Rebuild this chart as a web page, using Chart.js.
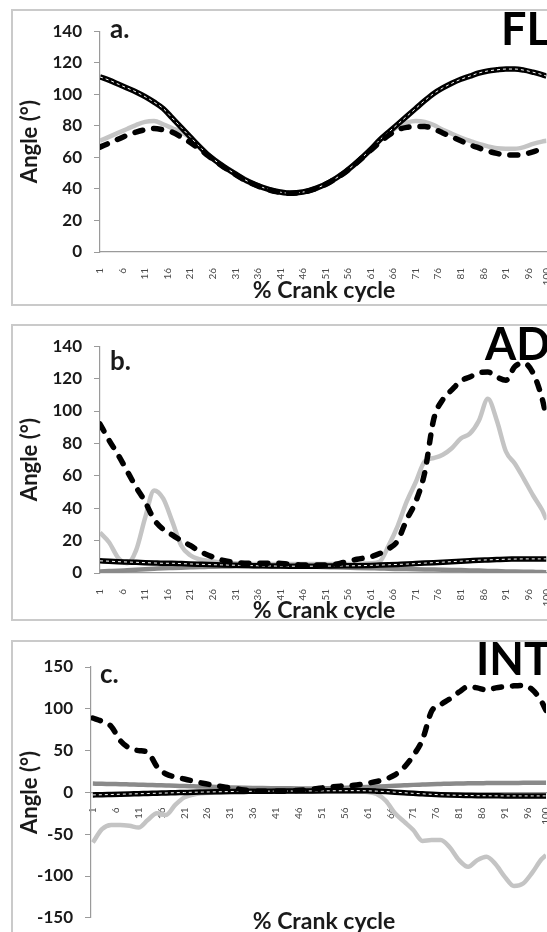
<!DOCTYPE html>
<html>
<head>
<meta charset="utf-8">
<script src="https://cdn.jsdelivr.net/npm/chart.js@4.4.0/dist/chart.umd.min.js"></script>
<style>
  html, body { margin: 0; padding: 0; background: #fff; }
  body { width: 547px; height: 932px; overflow: hidden; position: relative; }
  .frame { position: absolute; left: 11px; width: 620px; border: 2px solid #cacaca; box-sizing: border-box; }
  canvas { position: absolute; left: 0; }
</style>
</head>
<body>
<div class="frame" style="top:9px;height:297px"></div>
<div class="frame" style="top:324px;height:297px"></div>
<div class="frame" style="top:640px;height:320px"></div>
<canvas id="chartA" width="600" height="296" style="top:9px"></canvas>
<canvas id="chartB" width="600" height="296" style="top:324px"></canvas>
<canvas id="chartC" width="600" height="300" style="top:640px"></canvas>
<script>
// % crank cycle positions where values were read
const CYCLE = [1, 3, 5, 7, 9, 11, 13, 15, 17, 19, 21, 23, 25,
  28, 31, 34, 37, 40, 43, 46, 49, 52, 55, 58, 61,
  63, 65, 67, 69, 71, 73, 75, 77, 79, 81, 83, 85, 87, 89, 91, 93, 95, 97, 99, 100];
const X_TICKS = [1, 6, 11, 16, 21, 26, 31, 36, 41, 46, 51, 56, 61, 66, 71, 76, 81, 86, 91, 96, 100];

// a. FL
const flexSolid = [111, 109, 106.5, 104, 101.5, 98.5, 95, 91, 85, 79, 73, 67, 61.5,
  55, 49.5, 44.5, 41, 38.5, 37.3, 38, 40.5, 44.5, 50, 57, 65,
  71, 76, 81, 86, 91, 96, 100.5, 104, 107, 109.5, 111.5, 113.5, 114.8, 115.5, 116, 116, 115.3, 114, 112.5, 111.5];
const flexGray = [70.5, 73, 75.5, 78, 80.5, 82.5, 83, 81, 78.5, 76, 72.5, 67.5, 62,
  55.5, 50, 45, 41.3, 38.8, 37.6, 38.3, 40.8, 44.8, 50.3, 57.3, 65,
  70.5, 75, 79.5, 82, 83, 82.5, 80.5, 77.5, 75, 72.5, 70.5, 68.5, 67, 65.8, 65.5, 65.5, 66.5, 68.5, 70, 70.5];
const flexDash = [66.5, 69, 71.5, 74, 76, 77.5, 78.3, 77.5, 76, 73, 69.5, 65.5, 61,
  54.7, 49.2, 44.3, 40.8, 38.3, 37.2, 37.9, 40.3, 44.3, 49.8, 56.8, 64.5,
  69.5, 74, 77.5, 79, 79.5, 79.5, 78, 75.5, 73, 70.5, 68, 66, 64, 62.5, 61.5, 61.5, 62, 63.5, 65.5, 66.5];

// b. AD
const addSolid = [7.5, 7.3, 7, 6.8, 6.6, 6.4, 6.2, 6, 6, 5.8, 5.6, 5.4, 5.2,
  5, 4.8, 4.6, 4.4, 4.3, 4.2, 4.2, 4.2, 4.3, 4.4, 4.5, 4.7,
  4.9, 5.1, 5.3, 5.5, 5.8, 6.1, 6.4, 6.7, 7, 7.3, 7.6, 7.9, 8.1, 8.3, 8.5, 8.6, 8.7, 8.7, 8.7, 8.7];
const addDark = [1, 1.2, 1.4, 1.7, 2, 2.3, 2.6, 2.9, 3.1, 3.3, 3.5, 3.7, 3.8,
  4, 4.1, 4.2, 4.2, 4.2, 4.1, 4, 3.8, 3.6, 3.4, 3.1, 2.9,
  2.8, 2.6, 2.5, 2.4, 2.3, 2.2, 2.1, 2, 1.9, 1.8, 1.6, 1.5, 1.3, 1.2, 1, 0.9, 0.8, 0.7, 0.6, 0.5];
const addGray = [25, 19, 9.5, 6, 14, 34, 51, 46, 32, 17, 11, 8.5, 7.5,
  6.5, 6, 5.5, 5.5, 5.5, 5.5, 5.5, 5.5, 5.5, 5.5, 5.5, 6,
  7, 17, 29, 44, 56, 69, 71, 73, 77, 83, 86, 94, 107.5, 94, 75, 67.5, 58, 48, 39, 33];
const addDash = [92, 82, 73, 63, 53, 44, 33, 27, 23.5, 20, 17, 13.5, 11,
  8, 6.5, 6, 6, 6, 5.5, 5, 5, 5, 6.5, 8.5, 10,
  12, 15, 20, 33, 44, 62, 95, 107, 113, 118.5, 121, 123.5, 124, 121, 119, 127.5, 129.5, 123.5, 108, 96];

// c. INT
const intSolid = [-3, -2.8, -2.5, -2.2, -1.9, -1.6, -1.3, -1, -0.7, -0.4, -0.1, 0.2, 0.4,
  0.7, 1, 1.2, 1.4, 1.5, 1.6, 1.7, 1.8, 1.9, 2, 2.1, 1.9,
  1.5, 1, 0.3, -0.4, -1.1, -1.7, -2.3, -2.8, -3.2, -3.5, -3.7, -3.9, -4, -4.1, -4.2, -4.2, -4.2, -4.2, -4.2, -4.2];
const intDark = [10.5, 10.3, 10, 9.8, 9.5, 9.2, 8.9, 8.6, 8.3, 8, 7.6, 7.3, 7,
  6.5, 6, 5.6, 5.3, 5, 4.9, 4.8, 4.8, 5, 5.3, 5.8, 6.4,
  6.9, 7.4, 8, 8.5, 9, 9.4, 9.8, 10.1, 10.4, 10.6, 10.8, 11, 11.1, 11.2, 11.3, 11.3, 11.4, 11.4, 11.4, 11.4];
const intGray = [-60, -44, -39, -39, -40, -42, -33, -25, -27, -15, -6, -2.5, -1,
  0, 0.5, 1, 1, 1, 1, 1, 1, 1, 1, 1, 0.5,
  -2, -10, -25, -35, -45, -58, -57, -57, -66, -81, -89, -81, -77, -86, -101, -112, -109, -96, -80, -75];
const intDash = [89, 85, 79, 62, 53, 50, 48, 31, 22, 18.5, 16, 13.5, 11,
  8, 5.5, 3, 1.5, 1.5, 1.5, 2.5, 4, 6, 7.5, 8.5, 11,
  13, 16, 21, 30, 44, 63, 97, 105, 112, 120, 126.5, 125, 122.5, 125, 126.5, 127.5, 128, 123, 109, 98];

const FONT = 'Lato, "Open Sans", sans-serif';
const COLORS = { black: '#000000', white: '#ffffff', dark: '#8a8a8a', light: '#c4c4c4', axis: '#9a9a9a', text: '#1a1a1a' };

// panel letters, big labels and x titles
const panelText = {
  id: 'panelText',
  afterDraw(chart, args, o) {
    const ctx = chart.ctx;
    ctx.save();
    ctx.fillStyle = COLORS.text;
    ctx.textBaseline = 'alphabetic';
    ctx.textAlign = 'left';
    ctx.font = 'bold 26px ' + FONT;
    ctx.fillText(o.letter, o.letterX, o.letterY);
    ctx.fillStyle = '#000';
    ctx.font = 'bold 45px ' + FONT;
    ctx.fillText(o.big, o.bigX, o.bigY);
    ctx.fillStyle = COLORS.text;
    ctx.font = 'bold 23px ' + FONT;
    ctx.textAlign = 'center';
    ctx.fillText('% Crank cycle', o.titleX, o.titleY);
    ctx.restore();
  }
};

function line(values, kind) {
  const data = CYCLE.map((x, i) => ({ x: x, y: values[i] }));
  const base = { data: data, pointRadius: 0, fill: false, cubicInterpolationMode: 'monotone' };
  if (kind === 'dash') return Object.assign(base, { borderColor: COLORS.black, borderWidth: 5.5, borderDash: [8, 11], borderCapStyle: 'round' });
  if (kind === 'white') return Object.assign(base, { borderColor: COLORS.white, borderWidth: 1, borderDash: [3, 3] });
  if (kind === 'solid') return Object.assign(base, { borderColor: COLORS.black, borderWidth: 5.5 });
  if (kind === 'dark') return Object.assign(base, { borderColor: COLORS.dark, borderWidth: 4.5 });
  return Object.assign(base, { borderColor: COLORS.light, borderWidth: 4.5 });
}

function makeChart(id, cfg) {
  const canvas = document.getElementById(id);
  const datasets = [];
  if (cfg.dash) datasets.push(line(cfg.dash, 'dash'));
  datasets.push(line(cfg.solid, 'white'));
  datasets.push(line(cfg.solid, 'solid'));
  if (cfg.dark) datasets.push(line(cfg.dark, 'dark'));
  datasets.push(line(cfg.gray, 'gray'));

  return new Chart(canvas.getContext('2d'), {
    type: 'line',
    data: { datasets: datasets },
    plugins: [panelText],
    options: {
      responsive: false,
      animation: false,
      layout: { padding: { top: cfg.padTop, right: 600 - cfg.right, bottom: cfg.padBottom || 0, left: 0 } },
      plugins: {
        legend: { display: false },
        tooltip: { enabled: false },
        panelText: cfg.text,
      },
      scales: {
        x: {
          type: 'linear',
          position: cfg.xAtZero ? { y: 0 } : 'bottom',
          min: cfg.xMin,
          max: 100,
          afterBuildTicks: s => { s.ticks = X_TICKS.map(v => ({ value: v })); },
          afterFit: s => { if (!cfg.xAtZero) s.height = cfg.xHeight; },
          grid: { display: false },
          border: { display: true, color: COLORS.axis, width: 1.2 },
          ticks: {
            autoSkip: false, minRotation: 90, maxRotation: 90, padding: cfg.xPad,
            color: '#4a4a4a', font: { family: FONT, size: 10 },
          },
        },
        y: {
          min: cfg.yMin,
          max: cfg.yMax,
          afterFit: s => { s.width = cfg.axisX; },
          grid: { drawOnChartArea: false, drawTicks: true, tickLength: 6, color: COLORS.axis },
          border: { display: true, color: COLORS.axis, width: 1.2 },
          ticks: { stepSize: cfg.step, padding: 12, color: COLORS.text, font: { family: FONT, size: 17, weight: 'bold' } },
          title: {
            display: true, text: 'Angle (°)', color: COLORS.text,
            font: { family: FONT, size: 22, weight: 'bold' }, padding: { top: 17, bottom: 0 },
          },
        },
      },
    },
  });
}

makeChart('chartA', {
  solid: flexSolid, gray: flexGray, dash: flexDash,
  yMin: 0, yMax: 140, step: 20, xMin: 1, axisX: 100, right: 546.5,
  padTop: 14.5, xHeight: 53, xPad: 8,
  text: { letter: 'a.', letterX: 110, letterY: 29, big: 'FL', bigX: 501, bigY: 36, titleX: 324, titleY: 289 },
});

makeChart('chartB', {
  solid: addSolid, dark: addDark, gray: addGray, dash: addDash,
  yMin: 0, yMax: 140, step: 20, xMin: 1, axisX: 100, right: 546.5,
  padTop: 21, xHeight: 47, xPad: 8,
  text: { letter: 'b.', letterX: 110, letterY: 46, big: 'AD', bigX: 485, bigY: 36, titleX: 324, titleY: 294 },
});

makeChart('chartC', {
  solid: intSolid, dark: intDark, gray: intGray, dash: intDash,
  yMin: -150, yMax: 150, step: 50, xMin: 0.6, axisX: 91, right: 546,
  padTop: 27, padBottom: 18.5, xAtZero: true, xPad: 7,
  text: { letter: 'c.', letterX: 100, letterY: 43, big: 'INT', bigX: 476, bigY: 35, titleX: 324, titleY: 289 },
});
</script>
</body>
</html>
